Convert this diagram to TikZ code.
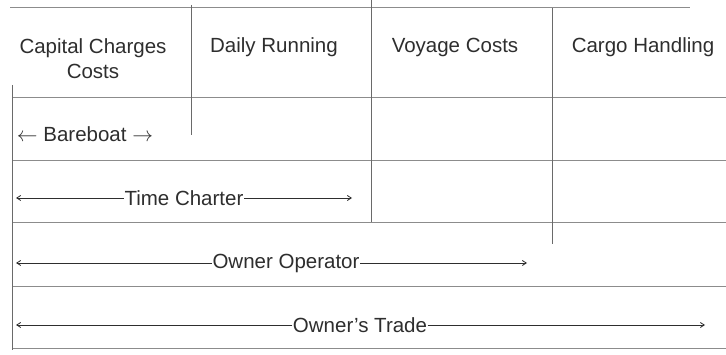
\documentclass[tikz,border=0pt]{standalone}
\usepackage{fontspec}
\setmainfont{Liberation Sans}
\usetikzlibrary{arrows.meta}
\definecolor{ink}{HTML}{2E2E2E}
\definecolor{rule}{HTML}{6A6A6A}
\definecolor{faintrule}{HTML}{8C8C8C}
\begin{document}
\begin{tikzpicture}[x=1pt,y=-1pt,
  gridline/.style={draw=rule,line width=0.9pt},
  rowline/.style={draw=faintrule,line width=0.9pt},
  header/.style={text=ink,font=\fontsize{20.5}{25}\selectfont,align=center,inner sep=0pt},
  spanlabel/.style={text=ink,font=\fontsize{20.5}{25}\selectfont,inner sep=0.5pt},
  spanline/.style={draw=ink,line width=0.8pt},
  tip/.style={-{Straight Barb[length=4pt,width=5pt]}}]
\useasboundingbox (0,0) rectangle (726,355);

% horizontal rules
\draw[rowline] (10,7) -- (690,7);
\draw[rowline] (12,97) -- (726,97);
\draw[rowline] (12,160) -- (726,160);
\draw[rowline] (12,222) -- (726,222);
\draw[rowline] (12,286) -- (726,286);
\draw[rowline] (12,348) -- (726,348);

% vertical rules
\draw[gridline] (12,85) -- (12,350);
\draw[gridline] (191,5) -- (191,135);
\draw[gridline] (371,0) -- (371,222);
\draw[gridline] (552,8) -- (552,244);

% column headings
\node[header] (capital) at (93,59) {Capital Charges\\Costs};
\node[header] (daily) at (274,47) {Daily Running};
\node[header] (voyage) at (455,47) {Voyage Costs};
\node[header] (cargo) at (643,47) {Cargo Handling};

% bareboat span
\node[spanlabel] (bareboat) at (85,134) {$\leftarrow$ Bareboat $\rightarrow$};

% time charter span
\coordinate (tcL) at (16,198);
\coordinate (tcR) at (352,198);
\node[spanlabel,fill=white] (tc) at (184,198) {Time Charter};
\draw[spanline,tip] (tc.west) -- (tcL);
\draw[spanline,tip] (tc.east) -- (tcR);

% owner operator span
\coordinate (ooL) at (16,263);
\coordinate (ooR) at (527,263);
\node[spanlabel,fill=white] (oo) at (286,263) {Owner Operator};
\draw[spanline,tip] (oo.west) -- (ooL);
\draw[spanline,tip] (oo.east) -- (ooR);

% owner's trade span
\coordinate (otL) at (16,325);
\coordinate (otR) at (705,325);
\node[spanlabel,fill=white] (ot) at (360,325) {Owner’s Trade};
\draw[spanline,tip] (ot.west) -- (otL);
\draw[spanline,tip] (ot.east) -- (otR);
\end{tikzpicture}
\end{document}
